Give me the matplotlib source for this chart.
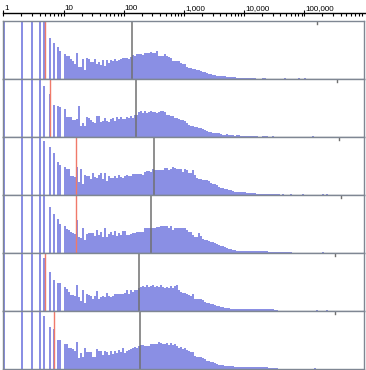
import numpy as np
import matplotlib
matplotlib.use('Agg')
from matplotlib import pyplot as plt
from matplotlib import transforms
from matplotlib.ticker import LogLocator, FixedLocator, NullFormatter

W, H = 366, 370
PER_DECADE = 30

# counts at the small integer values 1..12 (80 = off the top of the panel)
small_values = np.arange(1, 13)
small_1 = [80, 80, 80, 80, 80, 41, 36, 32, 28.3, 25, 23.3, 22.7]
small_2 = [80, 80, 80, 80, 50.7, 42.7, 31.7, 31, 29.7, 27.7, 20.3, 19.7]
small_3 = [80, 80, 80, 80, 54, 48.3, 41.7, 33.3, 30.3, 28.3, 25.7, 25.7]
small_4 = [80, 80, 80, 80, 80, 46.3, 39.3, 34.3, 29.3, 27, 24, 23.3]
small_5 = [80, 80, 80, 80, 52.7, 39.3, 31.3, 28.3, 27.7, 23.7, 21.7, 19.3]
small_6 = [80, 80, 80, 80, 52.7, 41.7, 40.3, 29.3, 28.7, 24.7, 24.7, 21.3]

# log-binned counts from bin 33 (about 12.6) upward, 30 bins per decade
first_bin = 33
binned_1 = [20, 18.3, 15.3, 26.3, 12.3, 11.7, 20, 8.7, 20.7, 20.3,
            16.7, 16.7, 20, 15.3, 17.3, 14.3, 18.7, 13.3, 19, 16.3,
            19.3, 18.3, 20.3, 18.3, 19, 20.3, 21, 21, 21, 20.3,
            22.3, 24.3, 23.3, 25, 25.3, 25, 23.7, 25.7, 26.3, 25.7,
            27.3, 25.7, 26.3, 28, 23.3, 23.3, 23.3, 25.3, 23.3, 21.7,
            21, 18.3, 17.7, 17.7, 17.7, 16, 15.3, 14.7, 12, 11.3,
            10.7, 10.3, 9.7, 9, 8.7, 7.7, 7.3, 6.7, 5.7, 5.3,
            5, 4.3, 3.7, 2.7, 3.3, 3, 3, 2.7, 2, 1.7,
            2.3, 1.7, 2, 1.3, 1.3, 1.3, 1.3, 1.3, 1.3, 1.3,
            1.3, 1.3, 1.3, 0, 0, 0, 1, 1, 0, 0,
            0, 0, 0, 0, 0, 0, 0, 1, 0, 0,
            0, 0, 0, 0, 1, 0, 0, 1]
binned_2 = [19.7, 17, 17, 17.7, 30.7, 10.7, 14, 11.3, 20.3, 19,
            16.7, 15, 14, 21.3, 21.3, 15, 16, 19, 16.3, 15.3,
            18.3, 19, 16, 19.7, 18.3, 20, 17.7, 18, 20.3, 19,
            21, 18.7, 22, 21.7, 25.3, 26.3, 24, 25.7, 24, 25,
            26.3, 25.3, 25.3, 23.7, 25.3, 26.3, 26.3, 25, 22, 22.3,
            20.7, 21.3, 18.7, 19, 17.7, 16.7, 16.7, 16.3, 13.7, 12.3,
            11.3, 11, 10.3, 9.7, 9, 8.7, 7.7, 7, 6.3, 5.3,
            5, 4.3, 4, 3.7, 3.7, 3, 2.3, 2.3, 2.7, 1.7,
            1.7, 1.7, 1.3, 1.7, 1.7, 1.3, 1.3, 1, 1, 1,
            1, 1, 1, 1, 0, 0, 1, 1, 1, 0,
            0, 1, 0, 0, 0, 0, 0, 0, 0, 0,
            0, 0, 0, 0, 0, 0, 0, 0, 0, 0,
            0, 1]
binned_3 = [19.3, 19, 18, 28.3, 12.7, 25.7, 11.3, 20, 19.3, 18.7,
            15.7, 22.3, 18, 17, 20, 22.3, 15.7, 21.7, 14.3, 18.7,
            17.3, 17.3, 19, 17.3, 19.7, 18.3, 17.3, 19, 20.3, 19,
            19, 20.5, 20.5, 20.5, 21.3, 21.3, 20, 22.7, 23.7, 23.7,
            23.3, 26.3, 25, 25.3, 25.3, 25.3, 25.3, 27.3, 26.7, 24.7,
            26.3, 28.3, 26.7, 26, 26, 26, 22.7, 26, 24.7, 22,
            21.7, 24.7, 20, 17.3, 16, 15.7, 15.3, 15.3, 15.3, 14,
            12.3, 11.3, 10.7, 10, 8.3, 7.3, 7, 6, 5.7, 5,
            4.7, 4, 3.3, 2.7, 3, 2.7, 3.3, 2.7, 2.3, 2.3,
            2.3, 2.3, 2.3, 1.3, 1.3, 1.3, 1.3, 1.3, 1.3, 1.3,
            1.3, 1.3, 1.3, 1.3, 1.3, 0, 1, 0, 0, 0,
            1, 0, 0, 0, 0, 0, 1, 0, 0, 0,
            0, 0, 0, 0, 0, 0, 1, 0, 1]
binned_4 = [21, 20, 18.7, 33.3, 15.7, 15, 25.3, 13.3, 19.3, 20,
            19.7, 20.3, 17.3, 23.3, 18, 21, 15.7, 25.3, 16, 19,
            20.7, 18.3, 22.3, 17, 20.3, 18.3, 22.3, 22.3, 18.3, 18.3,
            19, 20, 20, 21.3, 21.3, 21.3, 21.3, 25.3, 25.3, 25.3,
            25.3, 24.7, 24.7, 26, 26, 27.3, 27.3, 26.7, 26.7, 24.7,
            26.7, 23.3, 25.3, 25.3, 25.3, 25.3, 25.3, 24.7, 23.3, 21.3,
            21.3, 18, 16.3, 16.3, 20, 17, 14, 13.3, 12.7, 11.7,
            11, 10.7, 10, 9, 8.3, 7.3, 6.7, 6, 5.3, 4.3,
            3.7, 3.3, 3, 2.3, 2, 2, 2, 2, 2, 2,
            2, 2, 2, 1.7, 1.7, 1.7, 1.7, 1.7, 1.7, 1.3,
            1.3, 1.3, 1.3, 1.3, 1.3, 1.3, 1.3, 1.3, 1.3, 1.3,
            1.3, 0, 0, 0, 0, 0, 0, 0, 0, 0,
            0, 0, 0, 0, 0, 0, 1]
binned_5 = [16.3, 16.3, 14.7, 26.3, 14, 10.3, 21.3, 8.3, 16.7, 15.7,
            15.3, 12.3, 14.7, 19.7, 12.3, 14.3, 15.3, 13.7, 18, 15,
            14, 15.3, 17, 16.7, 16.7, 17.3, 17.3, 18.3, 21.3, 17.3,
            20.7, 18.7, 21, 20.7, 23.3, 24, 24.7, 23.7, 26, 24,
            25, 26, 24, 25, 23.7, 26.3, 24, 23.3, 23.7, 23.3,
            25.3, 22.7, 25, 25.7, 20.7, 19.3, 18, 18, 17.3, 16.3,
            14.7, 16.7, 12.3, 12.3, 12.3, 11.7, 11, 9.3, 8.3, 7.7,
            6.7, 6.7, 6, 5.3, 4.7, 4.3, 3.7, 3.3, 2.7, 2.7,
            2.3, 2, 2, 2, 2, 2, 1.7, 1.7, 1.7, 1.7,
            1.7, 1.7, 1.7, 1.7, 1.7, 1.7, 1.7, 1.7, 1.7, 1.7,
            1.7, 1.7, 1.3, 1.3, 0, 0, 0, 0, 0, 0,
            0, 0, 0, 0, 0, 0, 0, 0, 0, 0,
            0, 0, 0, 1, 0, 0, 0, 0, 1]
binned_6 = [21.3, 20, 17.7, 27.3, 11.3, 15.7, 12.3, 21.3, 16.7, 17,
            17.3, 12.3, 12.3, 20.3, 18, 17.7, 14.3, 18.3, 17, 13.7,
            17.7, 15, 17.7, 16, 19, 16.7, 21, 16.3, 17.7, 19,
            19.7, 21, 22.3, 20.7, 22.7, 23.7, 23.7, 23.3, 22.7, 23.3,
            25.3, 24.7, 24.7, 25.3, 26.7, 26, 24.7, 24.7, 26, 24.3,
            26, 24.3, 24.7, 22.7, 20.7, 21.7, 20, 21.3, 19.3, 18,
            16.7, 17.3, 12.7, 12.3, 12, 11.7, 10.7, 10, 8.3, 7.7,
            7, 6.7, 6, 4.7, 4.3, 4, 3.7, 3.3, 3.3, 3,
            2.7, 2.7, 2.3, 2, 2, 2, 2, 2, 2, 1.7,
            1.7, 1.7, 1.7, 1.7, 1.7, 1.7, 1.7, 1.7, 1.7, 1.3,
            1.3, 1.3, 1.3, 1.3, 0, 0, 0, 0, 0, 0,
            0, 0, 0, 0, 0, 0, 0, 0, 0, 0,
            0, 0, 1]

medians = [139, 162, 322, 287, 182, 189]
reds = [5, 6, 16, 16, 5, 7]
top_marks = [162000, 349000, 377000, 407000, 324000, 324000]
scale_ticks = [1, 10, 100, 1000, 10000, 100000]
scale_labels = ['1', '10', '100', '1,000', '10,000', '100,000']

smalls = [small_1, small_2, small_3, small_4, small_5, small_6]
binneds = [binned_1, binned_2, binned_3, binned_4, binned_5, binned_6]

bar_color = '#8a8fe4'
frame_color = '#7f8793'
median_color = '#707070'
red_color = '#f07a6a'

def px2val(px):
    return 10 ** ((px - 3.3) / 60.2)

fig = plt.figure(figsize=(W / 100, H / 100), dpi=100)
fig.patch.set_facecolor('white')

edges = 10 ** (np.arange(0, 200) / PER_DECADE)
panel_top, panel_h = 21, 58

for i in range(6):
    top = panel_top + i * panel_h
    ax = fig.add_axes([3 / W, 1 - (top + panel_h) / H, 361 / W, panel_h / H])
    heights = np.zeros(len(edges) - 1)
    idx = np.floor(PER_DECADE * np.log10(small_values) + 1e-9).astype(int)
    heights[idx] += smalls[i]
    b = np.array(binneds[i], dtype=float)
    heights[first_bin:first_bin + len(b)] = b
    keep = heights > 0
    ax.bar(edges[:-1][keep], heights[keep], width=np.diff(edges)[keep],
           align='edge', color=bar_color, linewidth=0)
    ax.axvline(medians[i], color=median_color, lw=1.1)
    ax.axvline(reds[i], color=red_color, lw=1.0)
    ax.plot([top_marks[i]] * 2, [panel_h, panel_h - 3], color=median_color, lw=1)
    ax.set_xscale('log')
    ax.set_xlim(px2val(3), px2val(364))
    ax.set_ylim(0, panel_h)
    ax.set_xticks([])
    ax.set_yticks([])
    ax.minorticks_off()
    for s in ax.spines.values():
        s.set_color(frame_color)
        s.set_linewidth(1.0)

# scale along the top
sc = fig.add_axes([3 / W, 1 - 13.3 / H, 363 / W, 0.0001])
sc.set_xscale('log')
sc.set_xlim(px2val(3), px2val(366))
for s in ['top', 'left', 'right']:
    sc.spines[s].set_visible(False)
sc.spines['bottom'].set_color('black')
sc.spines['bottom'].set_linewidth(1.0)
sc.set_yticks([])
sc.xaxis.set_major_locator(FixedLocator(scale_ticks))
sc.xaxis.set_minor_locator(LogLocator(base=10, subs=np.arange(2, 10), numticks=20))
sc.xaxis.set_major_formatter(NullFormatter())
sc.xaxis.set_minor_formatter(NullFormatter())
sc.tick_params(axis='x', which='major', direction='inout', length=4.5, width=0.8,
               top=False, bottom=True, labelbottom=False)
sc.tick_params(axis='x', which='minor', direction='out', length=2.2, width=0.8,
               top=False, bottom=True)
lab_tr = transforms.blended_transform_factory(sc.transData, fig.transFigure) + \
    transforms.ScaledTranslation(1.2 / 100, 0, fig.dpi_scale_trans)
for v, s in zip(scale_ticks, scale_labels):
    fig.text(v, 1 - 10.5 / H, s, transform=lab_tr, ha='left', va='baseline',
             fontsize=5.8, family='Liberation Sans', color='black')

fig.savefig('out.png', dpi=100, facecolor='white')
